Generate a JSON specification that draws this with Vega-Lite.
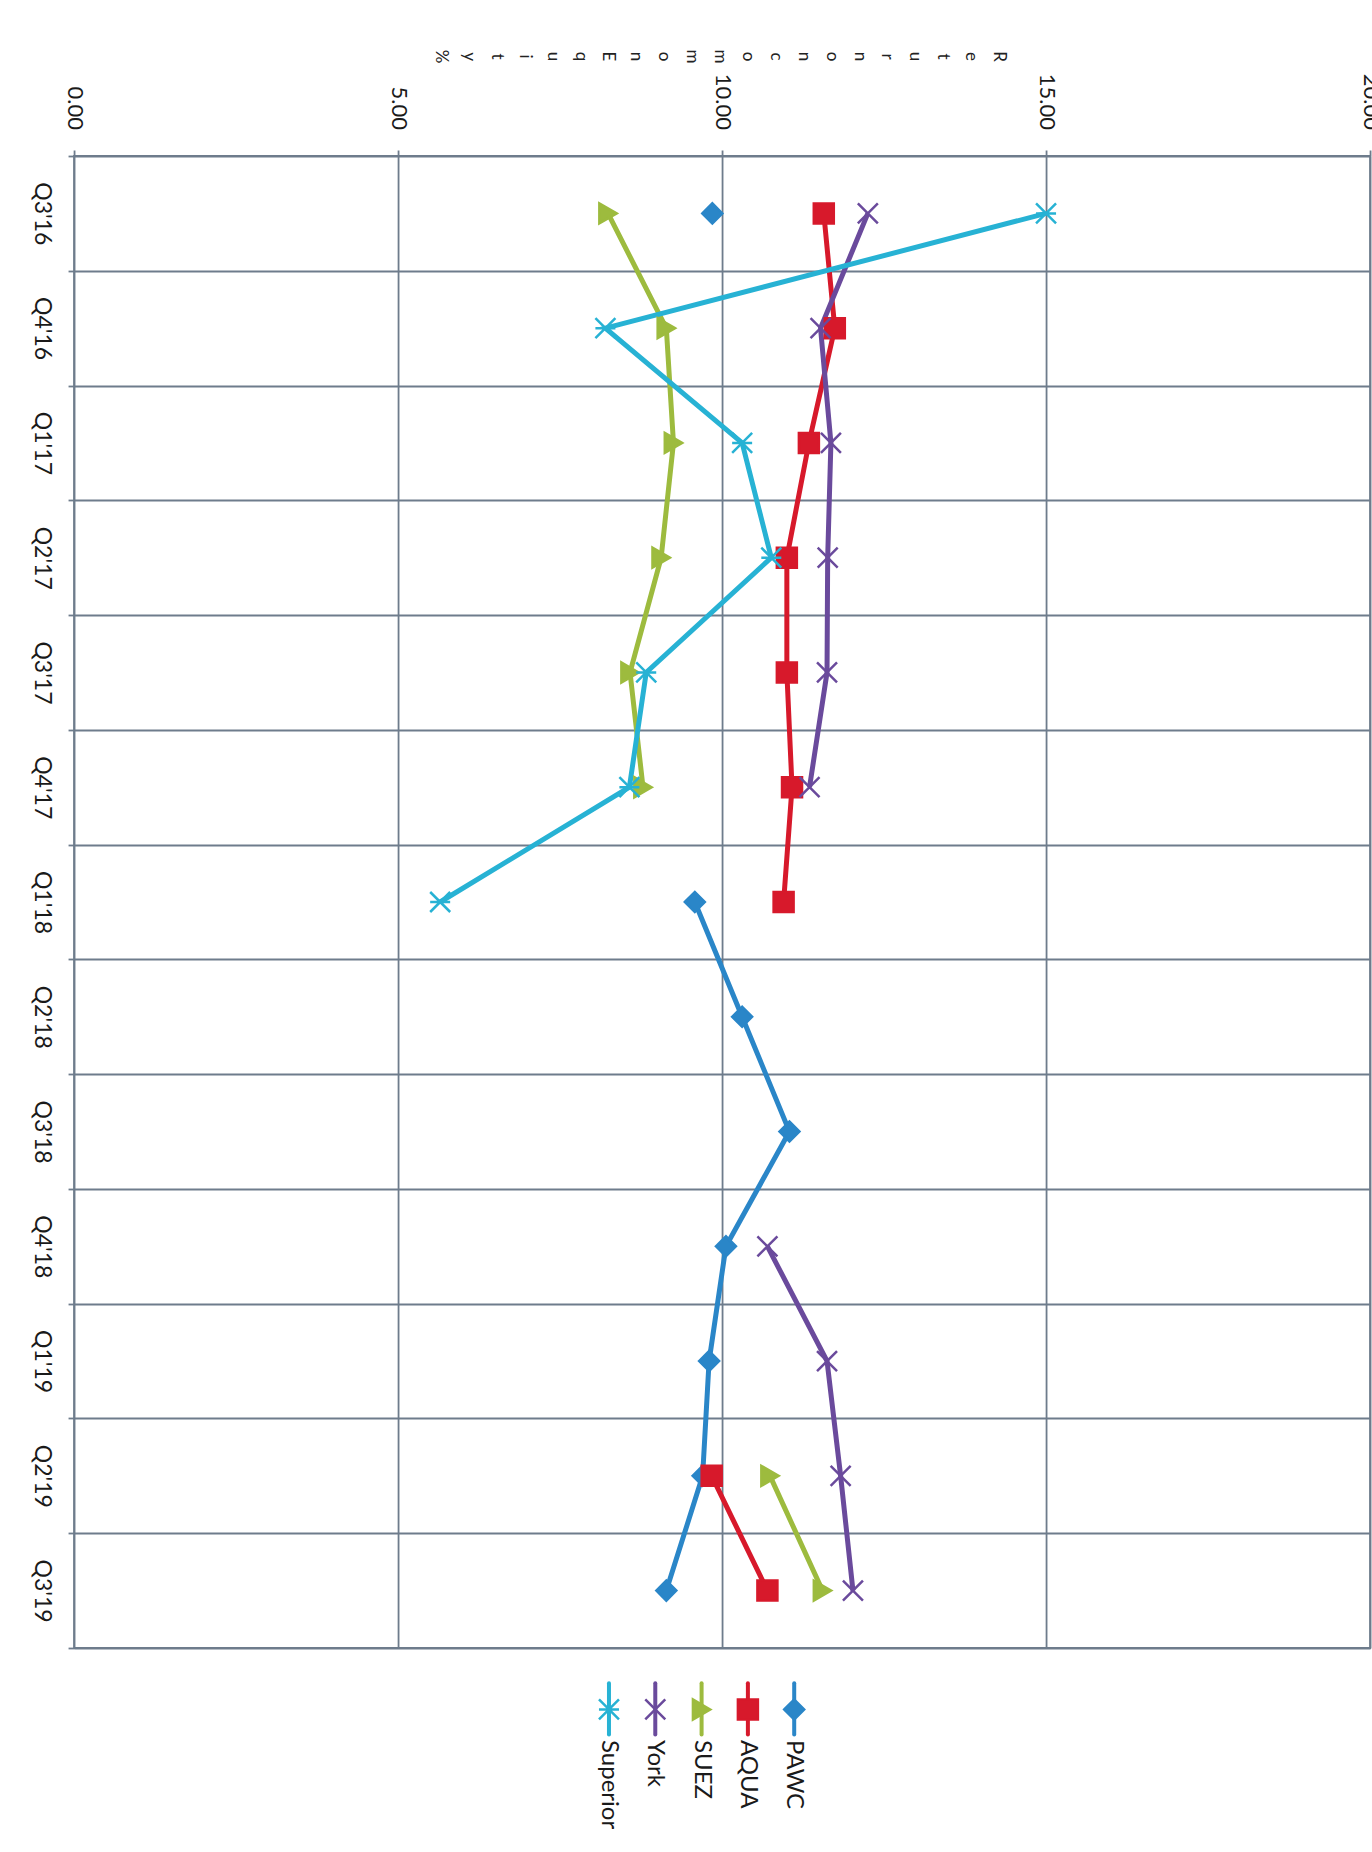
{
  "$schema": "https://vega.github.io/schema/vega-lite/v6.json",
  "background": "white",
  "padding": {"top": 48, "left": 28, "right": 0, "bottom": 0},
  "datasets": {
    "roe": [
      {"d": "2016-08-15", "s": "PAWC", "v": 9.85},
      {"d": "2016-11-15", "s": "PAWC", "v": null},
      {"d": "2018-02-15", "s": "PAWC", "v": 9.58},
      {"d": "2018-05-15", "s": "PAWC", "v": 10.31},
      {"d": "2018-08-15", "s": "PAWC", "v": 11.04},
      {"d": "2018-11-15", "s": "PAWC", "v": 10.06},
      {"d": "2019-02-15", "s": "PAWC", "v": 9.8},
      {"d": "2019-05-15", "s": "PAWC", "v": 9.7},
      {"d": "2019-08-15", "s": "PAWC", "v": 9.14},
      {"d": "2016-08-15", "s": "AQUA", "v": 11.57},
      {"d": "2016-11-15", "s": "AQUA", "v": 11.74},
      {"d": "2017-02-15", "s": "AQUA", "v": 11.34},
      {"d": "2017-05-15", "s": "AQUA", "v": 11.0},
      {"d": "2017-08-15", "s": "AQUA", "v": 11.0},
      {"d": "2017-11-15", "s": "AQUA", "v": 11.08},
      {"d": "2018-02-15", "s": "AQUA", "v": 10.95},
      {"d": "2018-05-15", "s": "AQUA", "v": null},
      {"d": "2019-05-15", "s": "AQUA", "v": 9.84},
      {"d": "2019-08-15", "s": "AQUA", "v": 10.7},
      {"d": "2016-08-15", "s": "SUEZ", "v": 8.24},
      {"d": "2016-11-15", "s": "SUEZ", "v": 9.14},
      {"d": "2017-02-15", "s": "SUEZ", "v": 9.25},
      {"d": "2017-05-15", "s": "SUEZ", "v": 9.06},
      {"d": "2017-08-15", "s": "SUEZ", "v": 8.58},
      {"d": "2017-11-15", "s": "SUEZ", "v": 8.78},
      {"d": "2018-02-15", "s": "SUEZ", "v": null},
      {"d": "2019-05-15", "s": "SUEZ", "v": 10.74},
      {"d": "2019-08-15", "s": "SUEZ", "v": 11.55},
      {"d": "2016-08-15", "s": "York", "v": 12.25},
      {"d": "2016-11-15", "s": "York", "v": 11.52},
      {"d": "2017-02-15", "s": "York", "v": 11.68},
      {"d": "2017-05-15", "s": "York", "v": 11.63},
      {"d": "2017-08-15", "s": "York", "v": 11.62},
      {"d": "2017-11-15", "s": "York", "v": 11.35},
      {"d": "2018-02-15", "s": "York", "v": null},
      {"d": "2018-11-15", "s": "York", "v": 10.7},
      {"d": "2019-02-15", "s": "York", "v": 11.62},
      {"d": "2019-05-15", "s": "York", "v": 11.83},
      {"d": "2019-08-15", "s": "York", "v": 12.02},
      {"d": "2016-08-15", "s": "Superior", "v": 15.0},
      {"d": "2016-11-15", "s": "Superior", "v": 8.2},
      {"d": "2017-02-15", "s": "Superior", "v": 10.31},
      {"d": "2017-05-15", "s": "Superior", "v": 10.76},
      {"d": "2017-08-15", "s": "Superior", "v": 8.83},
      {"d": "2017-11-15", "s": "Superior", "v": 8.57},
      {"d": "2018-02-15", "s": "Superior", "v": 5.65}
    ],
    "series": [
      {"s": "PAWC"}, {"s": "AQUA"}, {"s": "SUEZ"}, {"s": "York"}, {"s": "Superior"}
    ]
  },
  "config": {
    "view": {"stroke": "#6e7c8c", "strokeWidth": 1.8},
    "axis": {
      "gridColor": "#6e7c8c", "gridWidth": 1.8, "gridOpacity": 1,
      "tickColor": "#6e7c8c", "tickWidth": 1.8, "tickSize": 6,
      "domain": false,
      "labelFont": "Lato", "labelColor": "#1a1a1a"
    }
  },
  "spacing": 15,
  "center": true,
  "resolve": {"scale": {"x": "independent", "y": "independent"}},
  "vconcat": [
    {
      "width": 1296,
      "height": 1492,
      "data": {"name": "roe"},
      "encoding": {
        "y": {
          "field": "d", "type": "ordinal", "timeUnit": "yearquarter",
          "scale": {"type": "band", "paddingInner": 0, "paddingOuter": 0},
          "axis": {
            "orient": "left", "tickBand": "extent", "grid": true,
            "format": "Q%q'%y", "labelAngle": 90, "labelAlign": "center",
            "labelBaseline": "top", "labelPadding": 16, "labelFontSize": 23,
            "title": null
          }
        },
        "x": {
          "field": "v", "type": "quantitative",
          "scale": {"domain": [0, 20], "nice": false, "zero": true},
          "axis": {
            "orient": "top", "values": [0, 5, 10, 15, 20], "format": ".2f",
            "grid": true, "labelAngle": 90, "labelAlign": "right", "labelBaseline": "middle",
            "labelPadding": 20.5, "labelFontSize": 22, "labelFlush": false,
            "title": ["R","e","t","u","r","n","\u00a0","o","n","\u00a0","c","o","m","m","o","n","\u00a0","E","q","u","i","t","y","\u00a0","%"],
            "titleAngle": 90, "titleAlign": "center", "titleBaseline": "middle",
            "titleX": 924.5, "titleY": -100,
            "titleLineHeight": 27.9, "titleFont": "Lato", "titleFontSize": 17,
            "titleFontWeight": "normal", "titleColor": "#222222"
          }
        },
        "color": {
          "field": "s", "type": "nominal",
          "scale": {"domain": ["PAWC", "AQUA", "SUEZ", "York", "Superior"],
                    "range": ["#2a86c8", "#d7192b", "#9dbb3e", "#6a4a9c", "#27b2d4"]},
          "legend": null
        }
      },
      "layer": [
        {
          "mark": {"type": "line", "strokeWidth": 5, "invalid": "break-paths-show-domains"},
          "encoding": {"order": {"field": "d", "type": "temporal"}}
        },
        {
          "mark": {"type": "point", "filled": true, "opacity": 1, "strokeWidth": 2.5, "size": 400, "invalid": "filter"},
          "encoding": {
            "shape": {
              "field": "s", "type": "nominal",
              "scale": {"domain": ["PAWC", "AQUA", "SUEZ", "York", "Superior"],
                        "range": ["diamond", "square", "triangle-right", "M-1,-1L1,1M-1,1L1,-1", "M-1,-1L1,1M-1,1L1,-1M-1,0L1,0"]},
              "legend": null
            },
            "stroke": {
              "field": "s", "type": "nominal",
              "scale": {"domain": ["PAWC", "AQUA", "SUEZ", "York", "Superior"],
                        "range": ["#2a86c8", "#d7192b", "#9dbb3e", "#6a4a9c", "#27b2d4"]},
              "legend": null
            }
          }
        }
      ]
    },
    {
      "width": 276,
      "height": 180,
      "view": {"stroke": null},
      "data": {"name": "series"},
      "encoding": {
        "x": {
          "field": "s", "type": "nominal",
          "sort": ["Superior", "York", "SUEZ", "AQUA", "PAWC"],
          "scale": {"type": "point", "padding": 0.98, "align": 0.209},
          "axis": null
        },
        "color": {
          "field": "s", "type": "nominal",
          "scale": {"domain": ["PAWC", "AQUA", "SUEZ", "York", "Superior"],
                    "range": ["#2a86c8", "#d7192b", "#9dbb3e", "#6a4a9c", "#27b2d4"]},
          "legend": null
        }
      },
      "layer": [
        {
          "mark": {"type": "rule", "strokeWidth": 4, "strokeCap": "round"},
          "encoding": {
            "y": {"datum": 8.98, "type": "quantitative", "scale": {"domain": [0, 10]}, "axis": null},
            "y2": {"datum": 6.14}
          }
        },
        {
          "mark": {"type": "point", "filled": true, "opacity": 1, "strokeWidth": 2.5, "size": 400},
          "encoding": {
            "y": {"datum": 7.53, "type": "quantitative"},
            "shape": {
              "field": "s", "type": "nominal",
              "scale": {"domain": ["PAWC", "AQUA", "SUEZ", "York", "Superior"],
                        "range": ["diamond", "square", "triangle-right", "M-1,-1L1,1M-1,1L1,-1", "M-1,-1L1,1M-1,1L1,-1M-1,0L1,0"]},
              "legend": null
            },
            "stroke": {
              "field": "s", "type": "nominal",
              "scale": {"domain": ["PAWC", "AQUA", "SUEZ", "York", "Superior"],
                        "range": ["#2a86c8", "#d7192b", "#9dbb3e", "#6a4a9c", "#27b2d4"]},
              "legend": null
            }
          }
        },
        {
          "mark": {"type": "text", "angle": 90, "align": "left", "baseline": "middle", "font": "Lato", "fontSize": 24},
          "encoding": {
            "y": {"datum": 5.83, "type": "quantitative"},
            "text": {"field": "s"},
            "color": {"value": "#1a1a1a"}
          }
        }
      ]
    }
  ]
}
